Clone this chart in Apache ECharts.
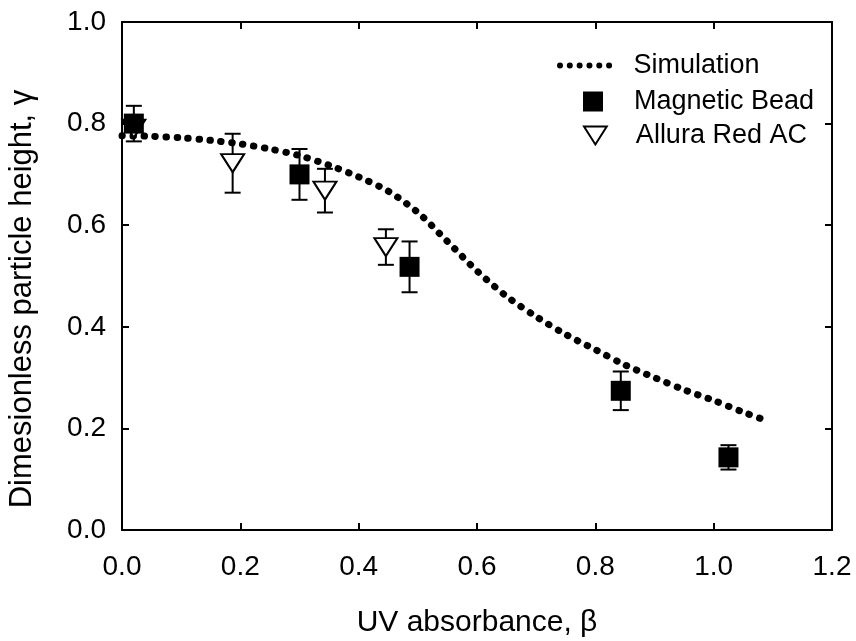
<!DOCTYPE html>
<html>
<head>
<meta charset="utf-8">
<script src="https://cdn.jsdelivr.net/npm/echarts@6/dist/echarts.min.js"></script>
<style>
  html, body { margin: 0; padding: 0; background: #fff; }
  #chart { width: 856px; height: 641px; }
</style>
</head>
<body>
<div id="chart"></div>
<script>
// Simulated particle height vs. UV absorbance
const simX = [0.00, 0.05, 0.10, 0.15, 0.20, 0.25, 0.30, 0.35, 0.40, 0.45, 0.50, 0.55,
              0.60, 0.65, 0.70, 0.75, 0.80, 0.85, 0.90, 0.95, 1.00, 1.05, 1.09];
const simY = [0.776, 0.775, 0.772, 0.767, 0.760, 0.750, 0.737, 0.718, 0.695, 0.667, 0.625, 0.568,
              0.510, 0.460, 0.420, 0.385, 0.355, 0.325, 0.300, 0.276, 0.255, 0.232, 0.215];

// Measured: magnetic beads
const beadX   = [0.02, 0.30, 0.486, 0.843, 1.025];
const beadY   = [0.80, 0.70, 0.518, 0.274, 0.143];
const beadErr = [0.035, 0.050, 0.050, 0.038, 0.024];

// Measured: Allura Red AC dye
const dyeX   = [0.02, 0.187, 0.343, 0.446];
const dyeY   = [0.79, 0.722, 0.668, 0.557];
const dyeErr = [0.0, 0.058, 0.043, 0.035];

const xTickStep = 0.2;
const yTickStep = 0.2;

const FONT = '"Liberation Sans", Arial, sans-serif';

function pairs(xs, ys) { return xs.map((x, i) => [x, ys[i]]); }

function errorBars(name, xs, ys, es) {
  return {
    name: name + ' error',
    type: 'custom',
    silent: true,
    z: 3,
    encode: { x: 0, y: [1, 2] },
    data: xs.map((x, i) => [x, ys[i] - es[i], ys[i] + es[i]]).filter((d, i) => es[i] > 0),
    renderItem(params, api) {
      const x = api.value(0);
      const lo = api.coord([x, api.value(1)]);
      const hi = api.coord([x, api.value(2)]);
      const half = 8;
      const style = { stroke: '#000', lineWidth: 2 };
      return {
        type: 'group',
        children: [
          { type: 'line', shape: { x1: lo[0], y1: lo[1], x2: hi[0], y2: hi[1] }, style },
          { type: 'line', shape: { x1: lo[0] - half, y1: lo[1], x2: lo[0] + half, y2: lo[1] }, style },
          { type: 'line', shape: { x1: hi[0] - half, y1: hi[1], x2: hi[0] + half, y2: hi[1] }, style }
        ]
      };
    }
  };
}

// Legend icon for the dotted simulation curve: a row of six dots
function dotRowPath(n, step, r) {
  let d = 'path://';
  for (let i = 0; i < n; i++) {
    const cx = r + i * step;
    d += `M${cx - r},${r}a${r},${r} 0 1,0 ${2 * r},0a${r},${r} 0 1,0 ${-2 * r},0`;
  }
  return d;
}

function axisLine() { return { show: true, onZero: false, lineStyle: { color: '#000', width: 2 } }; }
function tickIn() { return { show: true, inside: true, length: 7, lineStyle: { color: '#000', width: 2 } }; }
const labelFmt = v => v.toFixed(1);

function legendFor(name, icon, w, h, left, top, padLeft) {
  return {
    orient: 'vertical',
    left, top,
    itemWidth: w,
    itemHeight: h,
    selectedMode: false,
    icon,
    textStyle: { fontFamily: FONT, fontSize: 27, color: '#000', padding: [0, 0, 0, padLeft] },
    data: [{ name, icon }]
  };
}

const chart = echarts.init(document.getElementById('chart'), null, { renderer: 'canvas' });
chart.setOption({
  animation: false,
  backgroundColor: '#fff',
  grid: { left: 122, right: 24, top: 22, bottom: 111, outerBoundsMode: 'none', containLabel: false },
  legend: [
    legendFor('Simulation', dotRowPath(6, 10.8, 3.3), 60, 6, 552, 47, 14),
    legendFor('Magnetic Bead', 'rect', 20, 20, 578, 83, 26),
    legendFor('Allura Red AC', 'path://M0,0L24,0L12,19Z', 23, 18, 578, 117, 24)
  ],
  xAxis: [
    {
      type: 'value', min: 0, max: 1.2, interval: xTickStep, position: 'bottom',
      name: 'UV absorbance, β', nameLocation: 'middle', nameGap: 78,
      nameTextStyle: { fontFamily: FONT, fontSize: 30, color: '#000' },
      axisLine: axisLine(), axisTick: tickIn(), splitLine: { show: false },
      axisLabel: { fontFamily: FONT, fontSize: 28, color: '#000', margin: 23, formatter: labelFmt }
    },
    {
      type: 'value', min: 0, max: 1.2, interval: xTickStep, position: 'top',
      axisLine: axisLine(), axisTick: tickIn(), splitLine: { show: false }, axisLabel: { show: false }
    }
  ],
  yAxis: [
    {
      type: 'value', min: 0, max: 1.0, interval: yTickStep, position: 'left',
      name: 'Dimesionless particle height, γ', nameLocation: 'middle', nameGap: 84,
      nameTextStyle: { fontFamily: FONT, fontSize: 31, color: '#000', padding: [0, 46, 0, 0] },
      axisLine: axisLine(), axisTick: tickIn(), splitLine: { show: false },
      axisLabel: { fontFamily: FONT, fontSize: 28, color: '#000', margin: 16, formatter: labelFmt }
    },
    {
      type: 'value', min: 0, max: 1.0, interval: yTickStep, position: 'right',
      axisLine: axisLine(), axisTick: tickIn(), splitLine: { show: false }, axisLabel: { show: false }
    }
  ],
  series: [
    {
      name: 'Simulation',
      type: 'line',
      data: pairs(simX, simY),
      smooth: 0.3,
      symbol: 'none',
      z: 2,
      lineStyle: { color: '#000', width: 7, type: [0.5, 10.5], cap: 'round' },
      itemStyle: { color: '#000' }
    },
    errorBars('Allura Red AC', dyeX, dyeY, dyeErr),
    {
      name: 'Allura Red AC',
      type: 'scatter',
      data: pairs(dyeX, dyeY),
      symbol: 'triangle',
      symbolRotate: 180,
      symbolSize: [23, 18],
      z: 4,
      itemStyle: { color: '#fff', borderColor: '#000', borderWidth: 2, opacity: 1 }
    },
    errorBars('Magnetic Bead', beadX, beadY, beadErr),
    {
      name: 'Magnetic Bead',
      type: 'scatter',
      data: pairs(beadX, beadY),
      symbol: 'rect',
      symbolSize: 20,
      z: 5,
      itemStyle: { color: '#000', opacity: 1 }
    }
  ]
});
</script>
</body>
</html>
